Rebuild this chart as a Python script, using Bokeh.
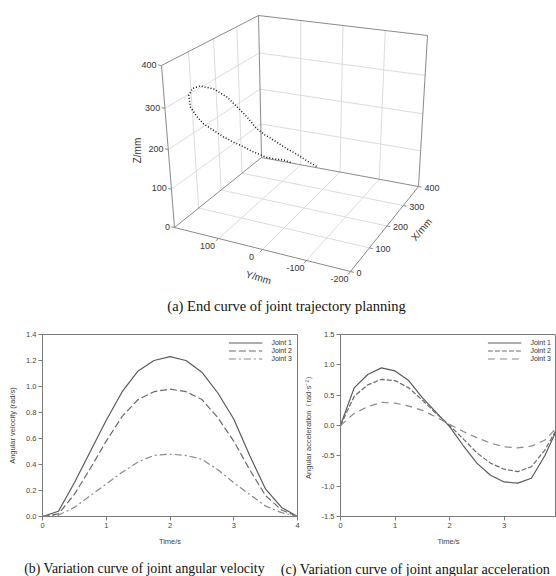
import numpy as np
from bokeh.plotting import figure
from bokeh.layouts import column, row
from bokeh.models import Range1d, FixedTicker, PrintfTickFormatter, Legend, LegendItem
from bokeh.core.properties import value
from bokeh.embed import file_html
from bokeh.resources import INLINE

# ---------------- data: joint angular velocity (rad/s) ----------------
time_v = [0, 0.25, 0.5, 0.75, 1.0, 1.25, 1.5, 1.75, 2.0, 2.25, 2.5, 2.75, 3.0, 3.25, 3.5, 3.75, 4.0]
vel_joint1 = [0, 0.04, 0.26, 0.50, 0.74, 0.96, 1.12, 1.20, 1.23, 1.20, 1.11, 0.95, 0.75, 0.47, 0.21, 0.07, 0]
vel_joint2 = [0, 0.02, 0.17, 0.37, 0.58, 0.77, 0.90, 0.96, 0.98, 0.96, 0.90, 0.76, 0.58, 0.36, 0.16, 0.05, 0]
vel_joint3 = [0, 0.01, 0.07, 0.16, 0.25, 0.34, 0.42, 0.47, 0.48, 0.47, 0.44, 0.36, 0.26, 0.17, 0.08, 0.03, 0]

# ---------------- data: joint angular acceleration (rad/s^2) ----------------
time_a = [0, 0.25, 0.5, 0.75, 1.0, 1.25, 1.5, 1.75, 2.0, 2.25, 2.5, 2.75, 3.0, 3.25, 3.5, 3.75, 4.0]
acc_joint1 = [0, 0.62, 0.84, 0.95, 0.90, 0.74, 0.46, 0.22, -0.02, -0.33, -0.62, -0.82, -0.93, -0.95, -0.87, -0.49, 0.0]
acc_joint2 = [0, 0.48, 0.67, 0.76, 0.74, 0.62, 0.42, 0.20, 0.0, -0.22, -0.45, -0.62, -0.72, -0.76, -0.68, -0.40, 0.0]
acc_joint3 = [0, 0.20, 0.31, 0.38, 0.37, 0.32, 0.25, 0.14, 0.02, -0.10, -0.20, -0.29, -0.35, -0.37, -0.34, -0.24, 0.0]

vel_ticks = [0.0, 0.2, 0.4, 0.6, 0.8, 1.0, 1.2, 1.4]
acc_ticks = [-1.5, -1.0, -0.5, 0.0, 0.5, 1.0, 1.5]
time_ticks = [0, 1, 2, 3, 4]
joint_names = ["Joint 1", "Joint 2", "Joint 3"]

# ---------------- data: 3-D end trajectory (mm) ----------------
traj_x = [0, 0, 0, 0, 0, 0, 0, 0, 0, 0, 0, 0, 0, 0, 0, 0, 0, 0, 0, 0, 0, 0, 0, 0, 0, 0, 0]
traj_y = [-66, -51, -33, -14, -5, 16, 35, 56, 77, 98, 119, 133, 145, 147, 138, 121,
          93, 66, 45, 25, 8, -9, -31, -59, -80, -102, -123]
traj_z = [229, 232, 230, 230, 232, 237, 244, 250, 258, 269, 280, 295, 314, 341, 359, 368,
          366, 353, 334, 315, 295, 283, 273, 259, 251, 240, 232]

x3_ticks = [0, 100, 200, 300, 400]
y3_ticks = [100, 0, -100, -200]
z3_ticks = [0, 100, 200, 300, 400]
x3_grid = [100, 200, 300]
y3_grid = [100, 0, -100]
z3_grid = [100, 200, 300]
X3_LIM = (0, 400)
Y3_LIM = (200, -200)
Z3_LIM = (0, 400)

caption_a = "(a) End curve of joint trajectory planning"
caption_b = "(b) Variation curve of joint angular velocity"
caption_c = "(c) Variation curve of joint angular acceleration"

# ---------------- 3-D view (perspective-like trilinear projection) ----------------
# screen anchors of the bounding box corners (u=X, v=Y, w=Z unit coords)
VIEW = {
    (0, 0, 0): (174, 227), (0, 1, 0): (350, 271), (1, 1, 0): (418, 186), (1, 0, 0): (261, 157),
    (0, 0, 1): (161, 65), (1, 0, 1): (258, 15), (1, 1, 1): (427, 35), (0, 1, 1): (354, 97),
}
DEPTH_X, DEPTH_Z = 0.866, 1.077


def _persp(t, a):
    return t / (a - (a - 1.0) * t)


def project(X, Y, Z):
    X = np.asarray(X, float); Y = np.asarray(Y, float); Z = np.asarray(Z, float)
    u = _persp((X - X3_LIM[0]) / (X3_LIM[1] - X3_LIM[0]), DEPTH_X)
    v = (Y - Y3_LIM[0]) / (Y3_LIM[1] - Y3_LIM[0])
    w = _persp((Z - Z3_LIM[0]) / (Z3_LIM[1] - Z3_LIM[0]), DEPTH_Z)
    px = np.zeros_like(u); py = np.zeros_like(u)
    for (i, j, k), (cx, cy) in VIEW.items():
        wt = (u if i else 1 - u) * (v if j else 1 - v) * (w if k else 1 - w)
        px = px + wt * cx
        py = py + wt * cy
    return px, -py


def segs(pairs):
    xs, ys = [], []
    for a, b in pairs:
        sx, sy = project([a[0], b[0]], [a[1], b[1]], [a[2], b[2]])
        xs.append(list(sx)); ys.append(list(sy))
    return xs, ys


p3 = figure(width=556, height=316, x_range=Range1d(0, 556), y_range=Range1d(-316, 0),
            x_axis_type=None, y_axis_type=None, output_backend="svg",
            toolbar_location=None, min_border=0)
p3.outline_line_color = None

x0, x1 = X3_LIM; y0, y1 = Y3_LIM; z0, z1 = Z3_LIM
grid_pairs = []
for y in y3_grid:
    grid_pairs += [((x0, y, z0), (x1, y, z0)), ((x1, y, z0), (x1, y, z1))]
for x in x3_grid:
    grid_pairs += [((x, y0, z0), (x, y1, z0)), ((x, y0, z0), (x, y0, z1))]
for z in z3_grid:
    grid_pairs += [((x0, y0, z), (x1, y0, z)), ((x1, y0, z), (x1, y1, z))]
gx, gy = segs(grid_pairs)
p3.multi_line(gx, gy, line_color="#dcdcdc", line_width=1)

edge_pairs = [((x0, y0, z0), (x0, y1, z0)), ((x0, y1, z0), (x1, y1, z0)),
              ((x1, y1, z0), (x1, y0, z0)), ((x1, y0, z0), (x0, y0, z0)),
              ((x0, y0, z0), (x0, y0, z1)), ((x0, y0, z1), (x1, y0, z1)),
              ((x1, y0, z1), (x1, y0, z0)), ((x1, y0, z1), (x1, y1, z1)),
              ((x1, y1, z1), (x1, y1, z0))]
ex, ey = segs(edge_pairs)
p3.multi_line(ex, ey, line_color="#8a8a8a", line_width=1)

tick_pairs = [((x0, y0, z), (x0, y0 + 7, z)) for z in z3_ticks]
tick_pairs += [((x0, y, z0), (x0 - 12, y, z0)) for y in y3_ticks]
tick_pairs += [((x, y1, z0), (x, y1 - 8, z0)) for x in x3_ticks]
tx, ty = segs(tick_pairs)
p3.multi_line(tx, ty, line_color="#8a8a8a", line_width=1)

lab_font = value("Liberation Sans")
zx, zy = project([x0] * len(z3_ticks), [y0 + 7] * len(z3_ticks), z3_ticks)
p3.text(x=list(zx - 1.5), y=list(zy), text=[str(t) for t in z3_ticks], text_font=lab_font,
        text_font_size="9px", text_color="#333333", text_align="right", text_baseline="middle")
yx, yy = project([x0] * len(y3_ticks), y3_ticks, [z0] * len(y3_ticks))
p3.text(x=list(yx - 11), y=list(yy - 7), text=[str(t) for t in y3_ticks], text_font=lab_font,
        text_font_size="9px", text_color="#333333", text_align="center", text_baseline="middle")
xx, xy = project(x3_ticks, [y1] * len(x3_ticks), [z0] * len(x3_ticks))
p3.text(x=list(xx + 6), y=list(xy - 1), text=[str(t) for t in x3_ticks], text_font=lab_font,
        text_font_size="9px", text_color="#333333", text_align="left", text_baseline="middle")

p3.text(x=[137], y=[-150], text=["Z/mm"], angle=[90], angle_units="deg", text_font=lab_font,
        text_font_size="10px", text_color="#333333", text_align="center", text_baseline="middle")
p3.text(x=[258], y=[-277], text=["Y/mm"], angle=[-16], angle_units="deg", text_font=lab_font,
        text_font_size="10px", text_color="#333333", text_align="center", text_baseline="middle")
p3.text(x=[421], y=[-229], text=["X/mm"], angle=[50], angle_units="deg", text_font=lab_font,
        text_font_size="10px", text_color="#333333", text_align="center", text_baseline="middle")

trx, try_ = project(traj_x, traj_y, traj_z)
p3.line(list(trx), list(try_), line_color="#111111", line_width=1.5, line_dash="1 2")

p3.text(x=[286], y=[-305], text=[caption_a], text_font=value("Liberation Serif"),
        text_font_size="14.5px", text_color="#111111", text_align="center", text_baseline="middle")


# ---------------- 2-D charts ----------------
def style_chart(p, yticks, ylabel):
    p.xaxis.ticker = FixedTicker(ticks=time_ticks)
    p.yaxis.ticker = FixedTicker(ticks=yticks)
    p.xaxis.formatter = PrintfTickFormatter(format="%d")
    p.yaxis.formatter = PrintfTickFormatter(format="%.1f")
    p.xaxis.axis_label = "Time/s"
    p.yaxis.axis_label = ylabel
    for ax in (p.xaxis[0], p.yaxis[0]):
        ax.axis_line_color = "#7a7a7a"
        ax.major_tick_line_color = "#7a7a7a"
        ax.minor_tick_line_color = None
        ax.major_tick_out = 4
        ax.major_tick_in = 0
        ax.major_label_text_font = "Liberation Sans"
        ax.major_label_text_font_size = "7.5px"
        ax.major_label_text_color = "#444444"
        ax.major_label_standoff = 2
        ax.axis_label_text_font = "Liberation Sans"
        ax.axis_label_text_font_size = "7.5px"
        ax.axis_label_text_font_style = "normal"
        ax.axis_label_text_color = "#444444"
        ax.axis_label_standoff = 6
    p.grid.visible = False
    p.outline_line_color = "#7a7a7a"


def add_legend(p, renderers):
    leg = Legend(items=[LegendItem(label=n, renderers=[r]) for n, r in zip(joint_names, renderers)],
                 location="top_right", label_text_font="Liberation Sans", label_text_font_size="7px",
                 label_text_color="#333333", glyph_width=34, glyph_height=7, label_height=7,
                 label_standoff=9, spacing=1, padding=0, margin=5, border_line_color=None,
                 background_fill_alpha=0)
    p.add_layout(leg)


pv = figure(width=300, height=236, x_range=Range1d(0, 4), y_range=Range1d(0, 1.4),
            output_backend="svg", toolbar_location=None,
            min_border_left=42, min_border_right=3, min_border_top=18, min_border_bottom=36)
style_chart(pv, vel_ticks, "Angular velocity (rad/s)")
rv1 = pv.line(time_v, vel_joint1, line_color="#5a5a5a", line_width=1.2)
rv2 = pv.line(time_v, vel_joint2, line_color="#6a6a6a", line_width=1.2, line_dash="7 3")
rv3 = pv.line(time_v, vel_joint3, line_color="#8a8a8a", line_width=1.2, line_dash="7 3 2 3")
add_legend(pv, [rv1, rv2, rv3])

pa = figure(width=256, height=236, x_range=Range1d(0, 3.96), y_range=Range1d(-1.5, 1.5),
            output_backend="svg", toolbar_location=None,
            min_border_left=38, min_border_right=0, min_border_top=12, min_border_bottom=35)
style_chart(pa, acc_ticks, "Angular acceleration（rad·s⁻²）")
ra1 = pa.line(time_a, acc_joint1, line_color="#5a5a5a", line_width=1.2)
ra2 = pa.line(time_a, acc_joint2, line_color="#6a6a6a", line_width=1.2, line_dash="5 2")
ra3 = pa.line(time_a, acc_joint3, line_color="#8a8a8a", line_width=1.2, line_dash="7 5")
add_legend(pa, [ra1, ra2, ra3])

# ---------------- captions strip ----------------
pc = figure(width=556, height=24, x_range=Range1d(0, 556), y_range=Range1d(-576, -552),
            x_axis_type=None, y_axis_type=None, output_backend="svg",
            toolbar_location=None, min_border=0)
pc.outline_line_color = None
pc.text(x=[144], y=[-568], text=[caption_b], text_font=value("Liberation Serif"),
        text_font_size="13.8px", text_color="#111111", text_align="center", text_baseline="middle")
pc.text(x=[415], y=[-568], text=[caption_c], text_font=value("Liberation Serif"),
        text_font_size="14.2px", text_color="#111111", text_align="center", text_baseline="middle")

layout = column(p3, row(pv, pa), pc)
open("out.html", "w").write(file_html(layout, INLINE))
